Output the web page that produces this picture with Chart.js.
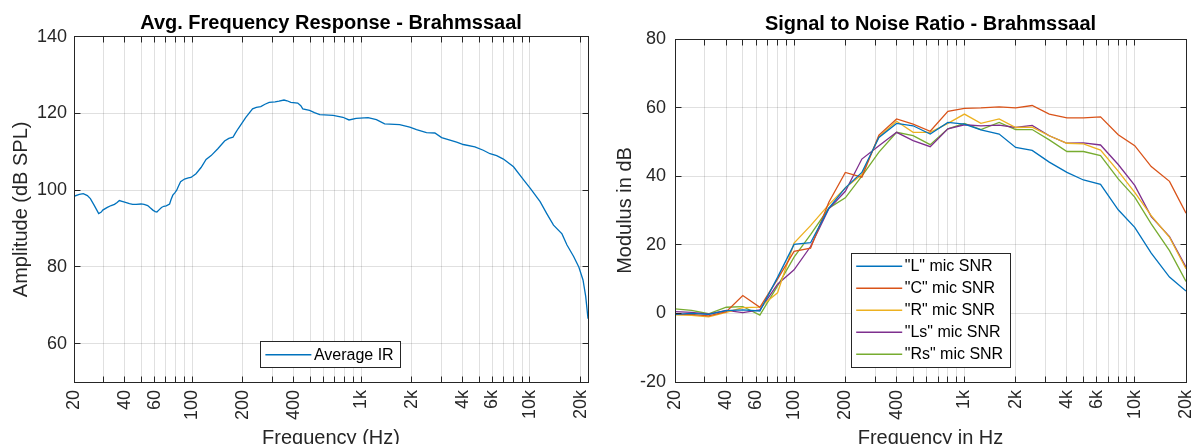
<!DOCTYPE html>
<html><head><meta charset="utf-8">
<script src="https://cdn.jsdelivr.net/npm/chart.js@4/dist/chart.umd.min.js"></script>
<style>
html,body{margin:0;padding:0;background:#fff;width:1192px;height:444px;overflow:hidden}
#c1{position:absolute;left:0;top:0}
#c2{position:absolute;left:600px;top:0}
</style>
</head><body>
<canvas id="c1" width="600" height="444"></canvas>
<canvas id="c2" width="592" height="444"></canvas>
<script>
// ---------- data ----------
const irFreqHz = [20,21.5,22.7,24,25,26.3,27.3,28,29,29.6,31.5,33.2,34.7,36,37.1,38.5,39.9,42.6,44.5,46.6,49.9,52,54.6,56.5,58.6,60.5,61.9,63.5,65.9,68,70.3,73.6,75,76.9,79,81.1,83,85.5,90.2,95,98.5,105.5,113,121,129.6,142,155.7,165,174.6,180,187.2,208,228,240,255,270,286,310,327,350,365,384,422,440,452,496,530,570,684,781,849,935,1100,1233,1380,1692,1943,2130,2440,2735,3000,3680,4030,4720,5290,5800,6350,6960,7990,9190,10070,11480,12570,13780,15470,16560,18130,19480,20600,21370,22050];
const irAmplitudeDb = [98.4,98.9,99.1,98.6,97.8,96.1,94.8,93.9,94.3,94.8,95.5,96.0,96.3,96.8,97.3,97.1,96.9,96.5,96.3,96.3,96.4,96.3,96.0,95.4,94.8,94.4,94.3,94.8,95.5,95.8,95.9,96.4,97.5,98.7,99.3,100.0,101.0,102.2,102.9,103.2,103.3,104.3,105.9,108.0,109.0,110.8,112.8,113.5,113.8,114.8,116.0,119.0,121.2,121.6,121.8,122.4,122.9,123.0,123.2,123.5,123.3,122.9,122.7,122.0,121.2,120.8,120.2,119.7,119.5,119.0,118.3,118.7,118.9,118.4,117.3,117.1,116.4,115.8,115.0,114.9,113.7,112.5,111.9,111.3,110.4,109.5,109.0,108.1,106.1,102.6,100.4,97.0,93.9,90.9,88.6,85.7,82.7,79.9,76.6,72.3,66.5];

const bandFreqHz = [20,25,31.5,40,50,63,80,100,125,160,200,250,315,400,500,630,800,1000,1250,1600,2000,2500,3150,4000,5000,6300,8000,10000,12500,16000,20000];
const snrL  = [-0.3,0.0,-0.3,0.8,1.0,0.7,10.5,20.1,20.6,30.7,36.6,41.1,51.3,55.4,54.7,52.3,55.7,55.2,53.5,52.3,48.4,47.5,44.1,41.1,38.9,37.6,30.2,25.1,17.6,10.6,6.5];
const snrC  = [-0.3,-0.3,-0.7,0.5,5.2,1.8,10.0,18.1,19.0,32.4,41.1,39.7,52.0,56.7,55.2,53.1,58.9,59.8,59.9,60.2,59.9,60.6,58.1,57.0,57.0,57.3,52.1,48.9,42.8,38.5,29.2];
const snrR  = [-0.4,-0.6,-1.0,0.3,1.7,1.8,6.0,20.5,25.6,31.7,36.6,40.5,51.5,56.0,52.8,52.8,55.4,58.1,55.4,56.7,54.2,54.3,51.8,49.6,49.4,47.6,41.5,35.3,28.5,22.2,13.0];
const snrLs = [0.5,0.3,-0.2,0.9,0.2,1.0,8.5,12.7,19.5,30.5,35.6,45.0,48.9,52.8,50.4,48.6,53.8,55.0,54.7,54.9,54.2,54.8,51.8,49.6,49.7,49.1,43.4,37.3,28.2,22.4,13.5];
const snrRs = [1.3,0.9,-0.1,1.8,2.0,-0.5,8.0,16.4,23.0,30.7,33.7,40.0,47.0,52.8,51.8,49.2,53.8,55.4,53.6,55.7,53.6,53.6,50.6,47.2,47.2,46.0,39.2,33.9,26.1,18.3,9.3];
const snrLabels = ['"L" mic SNR','"C" mic SNR','"R" mic SNR','"Ls" mic SNR','"Rs" mic SNR'];

const xGridHz = [20,30,40,50,60,70,80,90,100,200,300,400,500,600,700,800,900,1000,2000,3000,4000,5000,6000,7000,8000,9000,10000,20000];
const xTickValues = [20,40,60,100,200,400,1000,2000,4000,6000,10000,20000];
const xTickText = ['20','40','60','100','200','400','1k','2k','4k','6k','10k','20k'];
const ampTicks = [60,80,100,120,140];
const snrTicks = [-20,0,20,40,60,80];

// ---------- styles ----------
const FONT = '"Liberation Sans", Arial, Helvetica, sans-serif';
const AX = '#262626';
const GRID = 'rgba(0,0,0,0.12)';
const TICK = 6;
const COLORS = ['#0072BD','#D95319','#EDB120','#7E2F8E','#77AC30'];
Chart.defaults.font.family = FONT;
Chart.defaults.color = AX;

const alignPx = p => Math.round(p - 0.5) + 0.5;

const framePlugin = {
  id: 'matlabFrame',
  afterDatasetsDraw(chart) {
    const {ctx, chartArea: a, scales: {x, y}} = chart;
    const L = alignPx(a.left), R = alignPx(a.right), T = alignPx(a.top), B = alignPx(a.bottom);
    ctx.save();
    ctx.strokeStyle = AX; ctx.lineWidth = 1;
    ctx.beginPath();
    x.ticks.forEach(t => {
      const px = alignPx(x.getPixelForValue(t.value));
      ctx.moveTo(px, B); ctx.lineTo(px, B - TICK);
      ctx.moveTo(px, T); ctx.lineTo(px, T + TICK);
    });
    y.ticks.forEach(t => {
      const py = alignPx(y.getPixelForValue(t.value));
      ctx.moveTo(L, py); ctx.lineTo(L + TICK, py);
      ctx.moveTo(R, py); ctx.lineTo(R - TICK, py);
    });
    ctx.stroke();
    ctx.strokeRect(L, T, R - L, B - T);
    ctx.restore();
  }
};

function makeLegend(cfg) {
  return {
    id: 'boxLegend',
    afterDraw(chart) {
      const {ctx, chartArea: a} = chart;
      const ds = chart.data.datasets;
      ctx.save();
      ctx.font = '16px ' + FONT;
      const textW = Math.max(...ds.map(d => ctx.measureText(d.label).width));
      const w = cfg.padL + cfg.sample + cfg.gap + textW + cfg.padR;
      const h = cfg.padV * 2 + cfg.rowH * ds.length;
      const x0 = cfg.anchor === 'south' ? (a.left + a.right) / 2 - w / 2 : a.left + cfg.dx;
      const y0 = cfg.anchor === 'south' ? a.bottom - cfg.dy - h : a.top + cfg.dy;
      ctx.fillStyle = '#fff';
      ctx.fillRect(x0, y0, w, h);
      ctx.strokeStyle = AX; ctx.lineWidth = 1;
      ctx.strokeRect(alignPx(x0), alignPx(y0), Math.round(w), Math.round(h));
      ctx.textBaseline = 'middle'; ctx.textAlign = 'left';
      ds.forEach((d, i) => {
        const cy = y0 + cfg.padV + cfg.rowH * (i + 0.5);
        ctx.strokeStyle = d.borderColor; ctx.lineWidth = 1.5;
        ctx.beginPath();
        ctx.moveTo(x0 + cfg.padL, cy); ctx.lineTo(x0 + cfg.padL + cfg.sample, cy);
        ctx.stroke();
        ctx.fillStyle = '#000';
        ctx.fillText(d.label, x0 + cfg.padL + cfg.sample + cfg.gap, cy + 0.5);
      });
      ctx.restore();
    }
  };
}

function xScale(min, max, title) {
  return {
    type: 'logarithmic', min, max,
    afterBuildTicks: s => { s.ticks = xGridHz.filter(v => v >= min && v <= max).map(v => ({value: v})); },
    afterFit: s => { s.height = 62; s.paddingLeft = 0; s.paddingRight = 0; },
    ticks: {
      autoSkip: false, minRotation: 90, maxRotation: 90, padding: 8,
      font: {size: 18}, color: AX,
      callback: v => { const i = xTickValues.indexOf(v); return i >= 0 ? xTickText[i] : ''; }
    },
    grid: {color: GRID, lineWidth: 1, drawTicks: false},
    border: {display: false},
    title: {display: true, text: title, font: {size: 20}, color: AX, padding: {top: 0, bottom: -6}}
  };
}

function yScale(min, max, ticks, width, title, padTop, tickPad) {
  return {
    min, max,
    afterBuildTicks: s => { s.ticks = ticks.map(v => ({value: v})); },
    afterFit: s => { s.width = width; s.paddingTop = 0; s.paddingBottom = 0; },
    ticks: {padding: tickPad, font: {size: 18}, color: AX},
    grid: {color: GRID, lineWidth: 1, drawTicks: false},
    border: {display: false},
    title: {display: true, text: title, font: {size: 20}, color: AX, padding: {top: padTop, bottom: 0}}
  };
}

const common = {
  responsive: false, animation: false, events: [],
  elements: {point: {radius: 0}, line: {tension: 0, borderWidth: 1.3}}
};

new Chart(document.getElementById('c1'), {
  type: 'line',
  data: {
    datasets: [{
      label: 'Average IR',
      data: irFreqHz.map((f, i) => ({x: f, y: irAmplitudeDb[i]})),
      borderColor: COLORS[0], borderWidth: 1.3, fill: false
    }]
  },
  options: Object.assign({}, common, {
    layout: {padding: {left: 0, right: 12, top: 0, bottom: 0}},
    plugins: {
      legend: {display: false}, tooltip: {enabled: false},
      title: {display: true, text: 'Avg. Frequency Response - Brahmssaal', fullSize: false,
              font: {size: 20, weight: 'bold'}, color: '#000', padding: {top: 11, bottom: 1.7}}
    },
    scales: {
      x: xScale(20, 22050, 'Frequency (Hz)'),
      y: yScale(50, 140, ampTicks, 74, 'Amplitude (dB SPL)', 9, 7)
    }
  }),
  plugins: [framePlugin, makeLegend({anchor: 'south', dy: 14.3, padL: 4.5, sample: 46, gap: 2.5, padR: 7.5, padV: 2, rowH: 22})]
});

const snrSeries = [snrL, snrC, snrR, snrLs, snrRs];
new Chart(document.getElementById('c2'), {
  type: 'line',
  data: {
    datasets: snrSeries.map((s, k) => ({
      label: snrLabels[k],
      data: bandFreqHz.map((f, i) => ({x: f, y: s[i]})),
      borderColor: COLORS[k], borderWidth: 1.3, fill: false
    }))
  },
  options: Object.assign({}, common, {
    layout: {padding: {left: 0, right: 6, top: 0, bottom: 0}},
    plugins: {
      legend: {display: false}, tooltip: {enabled: false},
      title: {display: true, text: 'Signal to Noise Ratio - Brahmssaal', fullSize: false,
              font: {size: 20, weight: 'bold'}, color: '#000', padding: {top: 12.2, bottom: 2.8}}
    },
    scales: {
      x: xScale(20, 20000, 'Frequency in Hz'),
      y: yScale(-20, 80, snrTicks, 75, 'Modulus in dB', 13, 9)
    }
  }),
  plugins: [framePlugin, makeLegend({anchor: 'topleft', dx: 176.7, dy: 214.3, padL: 4.5, sample: 46, gap: 2.5, padR: 7.5, padV: 2, rowH: 22})]
});
</script>
</body></html>
